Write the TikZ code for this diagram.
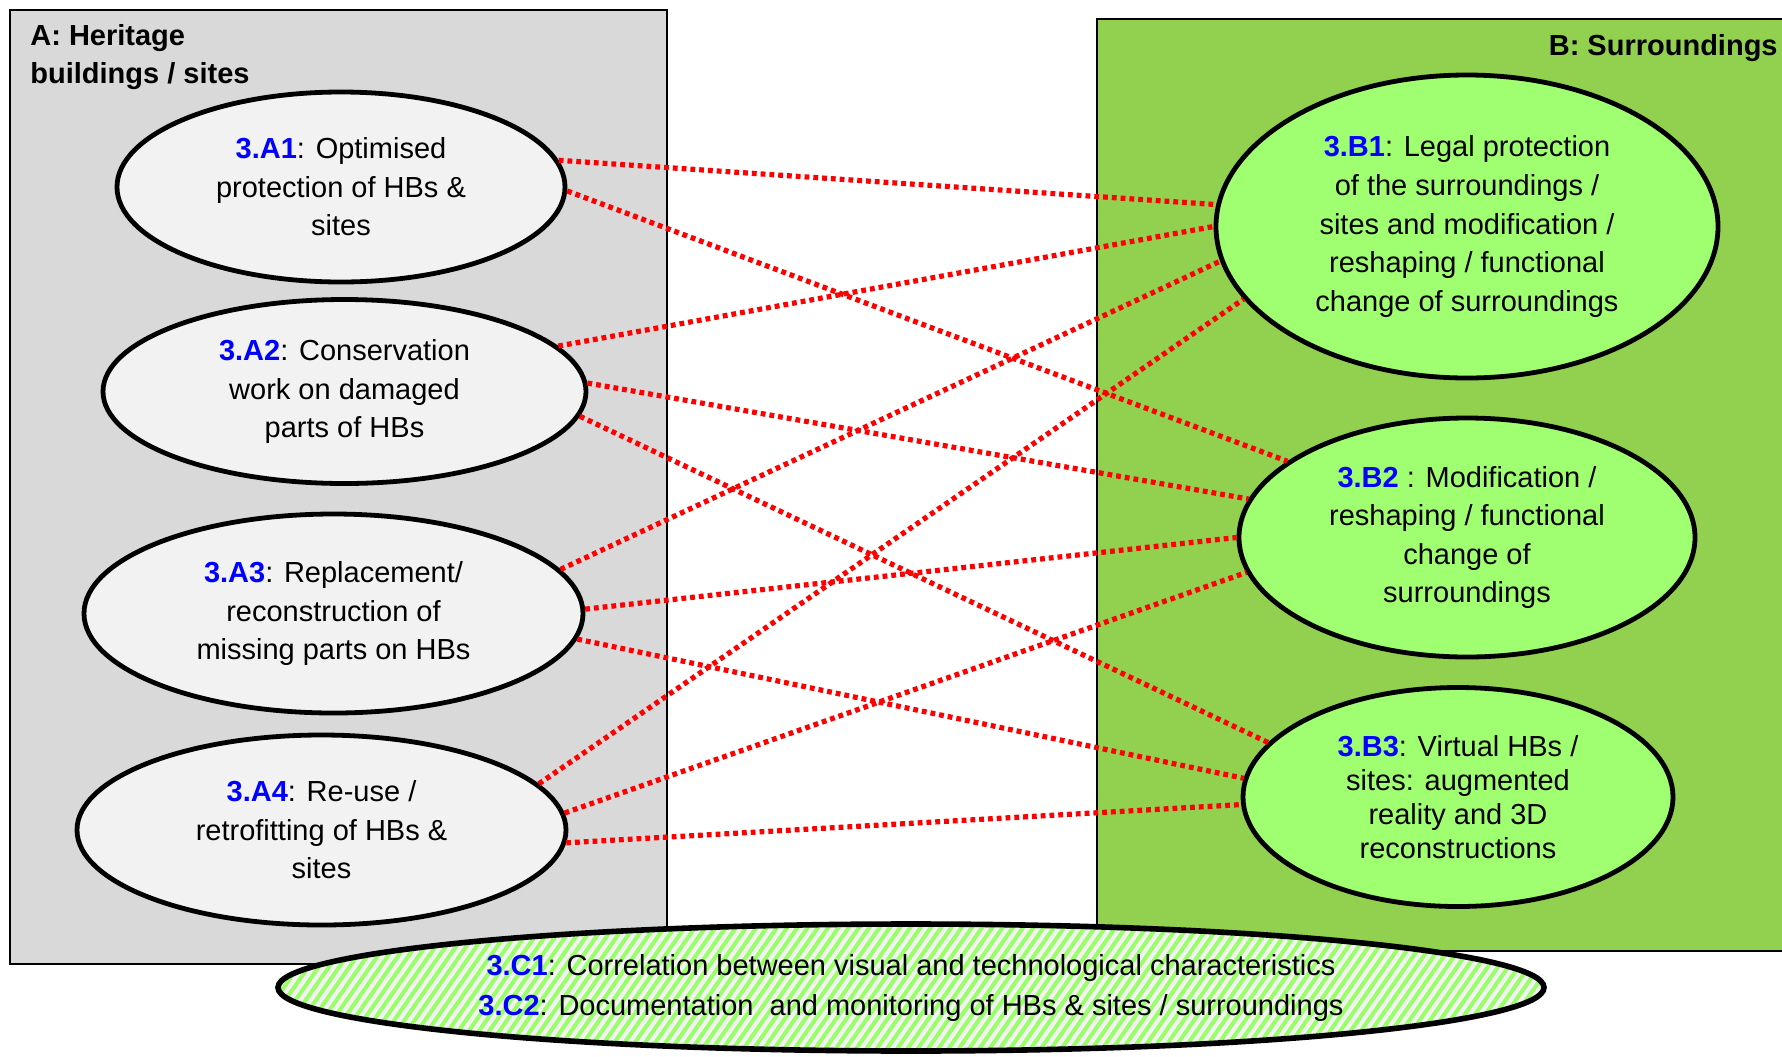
\documentclass[tikz,border=0pt]{standalone}
\usepackage{fontspec}
\setmainfont{Liberation Sans}
\usetikzlibrary{shapes.geometric,patterns.meta}
\definecolor{boxA}{HTML}{D9D9D9}
\definecolor{ellA}{HTML}{F2F2F2}
\definecolor{boxB}{HTML}{92D050}
\definecolor{ellB}{HTML}{A0FF70}
\definecolor{lblue}{HTML}{0000FF}
\definecolor{lred}{HTML}{FF0000}
\definecolor{stripe}{HTML}{99FF66}
\newcommand{\lbl}[1]{\textcolor{lblue}{\textbf{#1}}}
\begin{document}
\begin{tikzpicture}[x=0.5pt,y=-0.5pt,
  region/.style={draw=black, line width=0.8pt},
  item/.style={ellipse, draw=black, line width=2.4pt, inner sep=0pt, align=center,
    font=\fontsize{14.5}{19.3}\selectfont},
  itemA/.style={item, fill=ellA},
  itemB/.style={item, fill=ellB},
  link/.style={draw=lred, line width=2.6pt, dash pattern=on 2.4pt off 2pt},
  heading/.style={font=\fontsize{14.5}{19}\selectfont\bfseries, inner sep=0pt}
]
\useasboundingbox (0,0) rectangle (1782,1056);
\fill[white] (0,0) rectangle (1782,1056);
\begin{scope}
  \clip (0,0) rectangle (1782,1056);
  \draw[region, fill=boxA] (10,10) rectangle (667,964);
  \draw[region, fill=boxB] (1097,19) rectangle (1800,951);
\end{scope}

\node[heading, anchor=base west, align=left] (tA) at (30,83) {A: Heritage\\buildings / sites};
\node[heading, anchor=base east] (tB) at (1778,55) {B: Surroundings};

\node[itemA, minimum width=224pt, minimum height=95pt] (A1) at (341,187)
  {\lbl{3.A1}: Optimised\\protection of HBs \&\\sites};
\node[itemA, minimum width=241.5pt, minimum height=92pt] (A2) at (344.5,391.5)
  {\lbl{3.A2}: Conservation\\work on damaged\\parts of HBs};
\node[itemA, minimum width=249.5pt, minimum height=99.5pt] (A3) at (333.5,613.5)
  {\lbl{3.A3}: Replacement/\\reconstruction of\\missing parts on HBs};
\node[itemA, minimum width=244.5pt, minimum height=95pt] (A4) at (321.5,830)
  {\lbl{3.A4}: Re-use /\\retrofitting of HBs \&\\sites};

\node[itemB, minimum width=251pt, minimum height=151.5pt] (B1) at (1467,226.5)
  {\lbl{3.B1}: Legal protection\\of the surroundings /\\sites and modification /\\reshaping / functional\\change of surroundings};
\node[itemB, minimum width=228pt, minimum height=119.5pt] (B2) at (1467,537.5)
  {\lbl{3.B2} : Modification /\\reshaping / functional\\change of\\surroundings};
\node[itemB, minimum width=215pt, minimum height=109.5pt,
  font=\fontsize{14.5}{17}\selectfont] (B3) at (1458,797)
  {\lbl{3.B3}: Virtual HBs /\\sites: augmented\\reality and 3D\\reconstructions};

\node[item, line width=2.8pt, minimum width=633pt, minimum height=63.5pt,
  preaction={fill=ellA},
  pattern={Lines[angle=55,distance=4.2pt,line width=2pt]}, pattern color=stripe,
  font=\fontsize{14.5}{20}\selectfont] (C) at (911,987.5)
  {\lbl{3.C1}: Correlation between visual and technological characteristics\\
   \lbl{3.C2}: Documentation\ \ and monitoring of HBs \& sites / surroundings};

\draw[link] (A1.7) -- (B1.175);
\draw[link] (A1.-1) -- (B2.157);
\draw[link] (A2.12) -- (B1.180);
\draw[link] (A2.2) -- (B2.170);
\draw[link] (A2.-6) -- (B3.164);
\draw[link] (A3.11) -- (B1.188);
\draw[link] (A3.1) -- (B2.180);
\draw[link] (A3.-6) -- (B3.175);
\draw[link] (A4.12) -- (B1.198);
\draw[link] (A4.4) -- (B2.189);
\draw[link] (A4.-3) -- (B3.182);
\end{tikzpicture}
\end{document}
